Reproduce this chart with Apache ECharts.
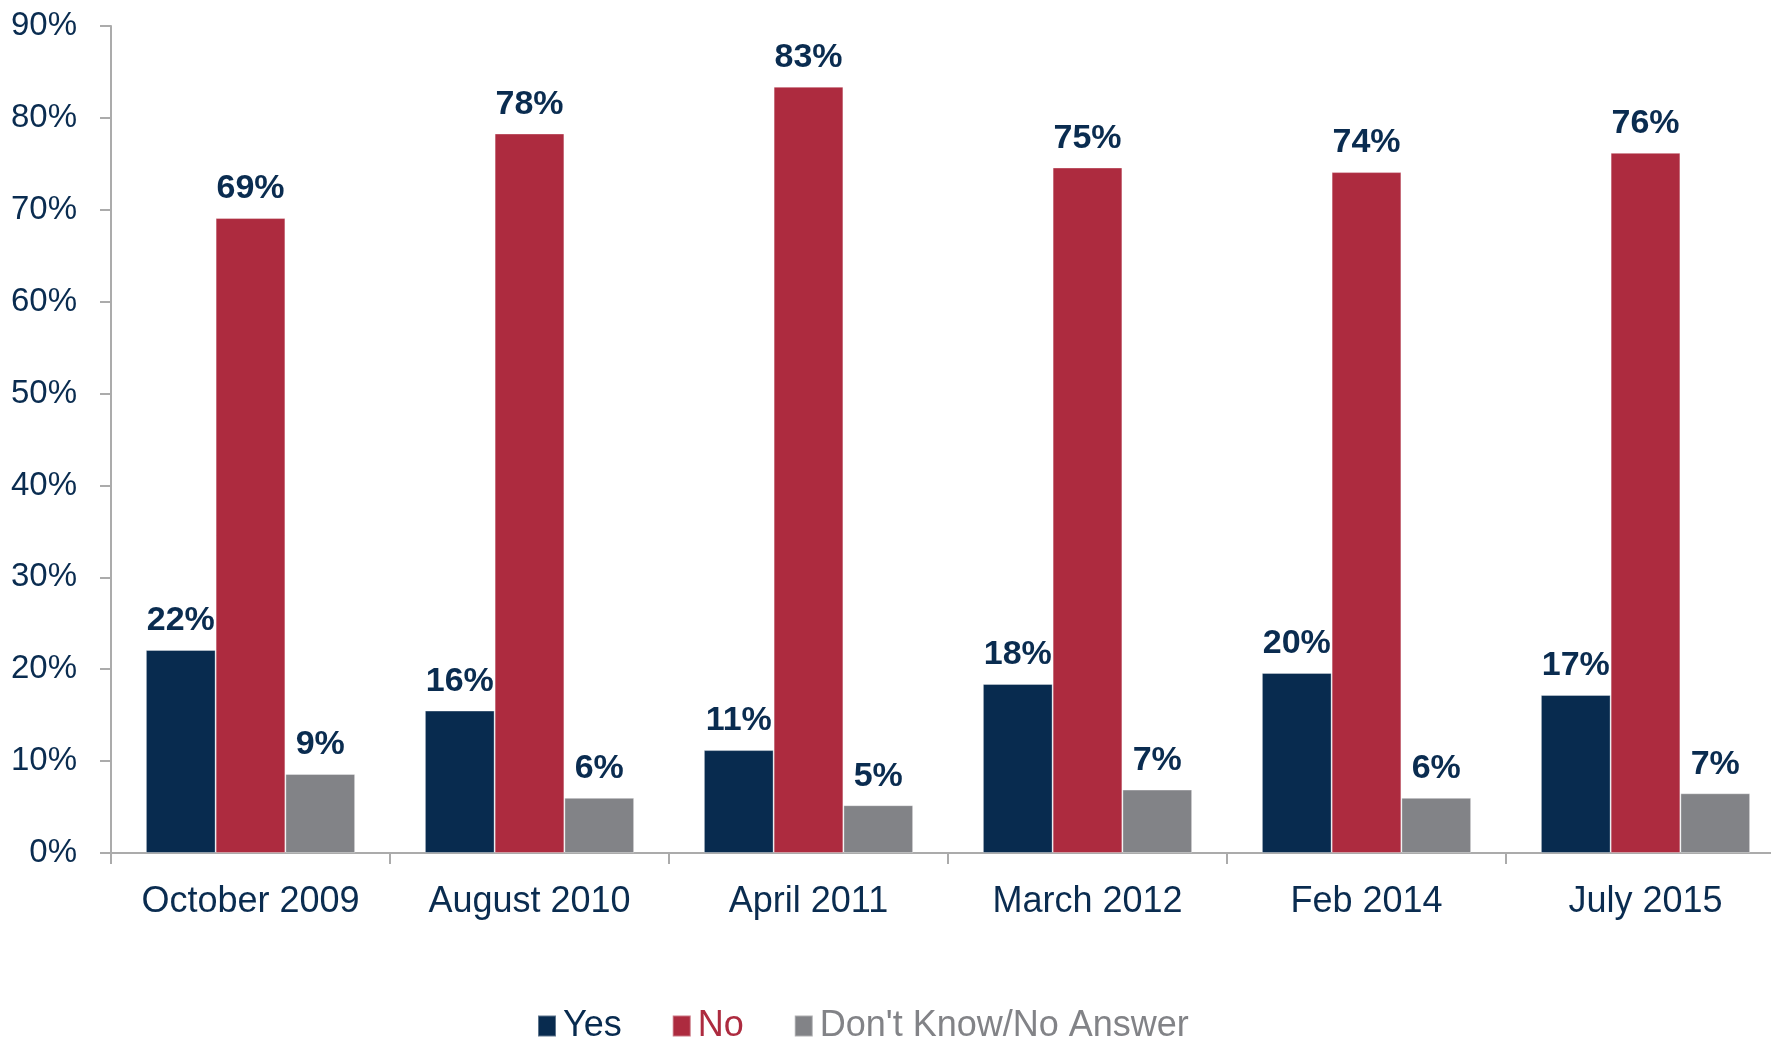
<!DOCTYPE html>
<html>
<head>
<meta charset="utf-8">
<title>Survey results</title>
<script src="https://cdn.jsdelivr.net/npm/echarts@6/dist/echarts.min.js"></script>
<style>
  html, body { margin: 0; padding: 0; background: #fff; overflow: hidden; }
  /* plot runs a little past the right edge of the window, as in the original */
  #main { width: 1786px; height: 1040px; }
</style>
</head>
<body>
<div id="main"></div>
<script>
// values
var categories = ['October 2009', 'August 2010', 'April 2011', 'March 2012', 'Feb 2014', 'July 2015'];
var yesValues = [22.1, 15.5, 11.2, 18.4, 19.6, 17.2];
var noValues = [69.1, 78.3, 83.4, 74.6, 74.1, 76.2];
var dkValues = [8.6, 6.0, 5.2, 6.9, 6.0, 6.5];
var seriesNames = ['Yes', 'No', "Don't Know/No Answer"];
var colors = ['#082B4F', '#AD2B3F', '#828387'];

var navy = '#0A2C50';
var chart = echarts.init(document.getElementById('main'));

function barSeries(name, data, color) {
  return {
    name: name,
    type: 'bar',
    data: data,
    barGap: 0,
    barCategoryGap: '25%',
    itemStyle: {
      color: color,
      borderColor: 'rgba(255,255,255,0.35)',
      borderWidth: 1
    },
    label: {
      show: true,
      position: 'top',
      distance: 12,
      color: navy,
      fontFamily: 'Liberation Sans',
      fontWeight: 'bold',
      fontSize: 34,
      formatter: function (p) {
        return Math.round(p.value) + '%';
      }
    }
  };
}

var option = {
  animation: false,
  color: colors,
  grid: {
    left: 111,
    right: 1,
    top: 26,
    bottom: 187,
    containLabel: false
  },
  legend: {
    left: 532,
    top: 1003,
    itemWidth: 18,
    itemHeight: 21,
    itemGap: 50,
    icon: 'rect',
    textStyle: {
      fontFamily: 'Liberation Sans',
      fontSize: 36,
      padding: [0, 0, 0, 2]
    },
    data: [
      { name: seriesNames[0], textStyle: { color: colors[0] } },
      { name: seriesNames[1], textStyle: { color: colors[1] } },
      { name: seriesNames[2], textStyle: { color: colors[2] } }
    ]
  },
  xAxis: {
    type: 'category',
    data: categories,
    axisLine: { lineStyle: { color: '#ABABAB', width: 2 } },
    axisTick: { show: true, interval: 0, length: 11, lineStyle: { color: '#ABABAB', width: 2 } },
    axisLabel: {
      interval: 0,
      color: navy,
      fontFamily: 'Liberation Sans',
      fontSize: 36,
      margin: 31
    }
  },
  yAxis: {
    type: 'value',
    min: 0,
    max: 90,
    interval: 10,
    splitLine: { show: false },
    axisLine: { show: true, lineStyle: { color: '#ABABAB', width: 2 } },
    axisTick: { show: true, length: 11, lineStyle: { color: '#ABABAB', width: 2 } },
    axisLabel: {
      color: navy,
      fontFamily: 'Liberation Sans',
      fontSize: 33,
      margin: 34,
      formatter: '{value}%'
    }
  },
  series: [
    barSeries(seriesNames[0], yesValues, colors[0]),
    barSeries(seriesNames[1], noValues, colors[1]),
    barSeries(seriesNames[2], dkValues, colors[2])
  ]
};

chart.setOption(option);
</script>
</body>
</html>
